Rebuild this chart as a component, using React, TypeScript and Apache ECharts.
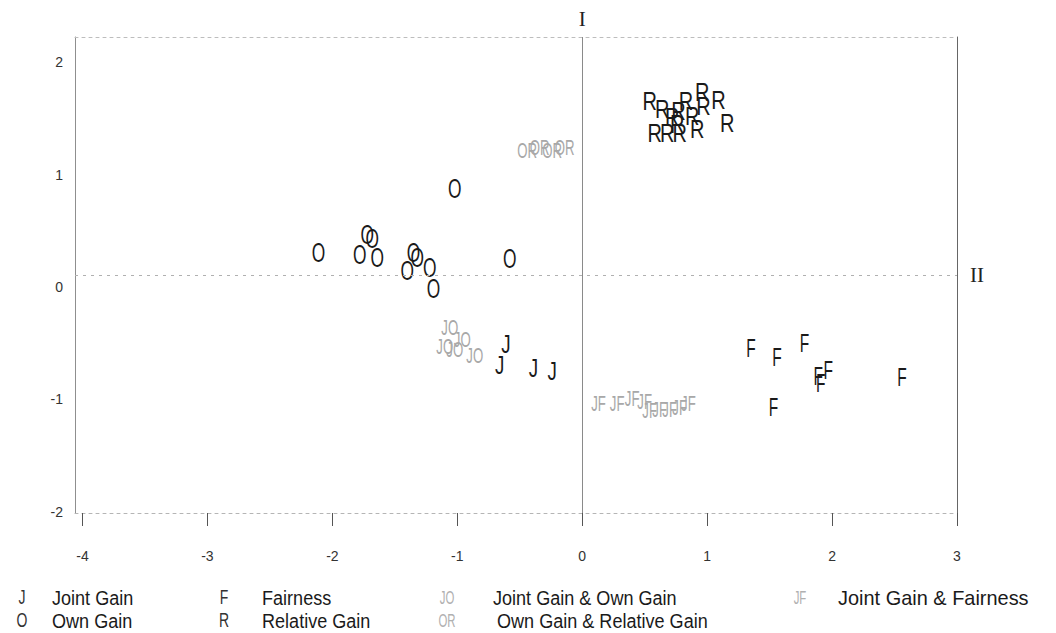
import React, { useEffect, useRef } from "react";
import * as echarts from "echarts";

// Tick values
const xTicks = [-4, -3, -2, -1, 0, 1, 2, 3];
const yTicks = [-2, -1, 0, 1, 2];

// Data points [x, y]
const jointGain: number[][] = [
  [-0.61, -0.62], [-0.66, -0.81], [-0.39, -0.83], [-0.24, -0.86],
];
const ownGain: number[][] = [
  [-1.02, 0.77], [-2.11, 0.2], [-1.72, 0.36], [-1.68, 0.33], [-1.78, 0.18],
  [-1.64, 0.16], [-1.35, 0.2], [-1.32, 0.16], [-1.4, 0.04], [-1.22, 0.07],
  [-1.19, -0.12], [-0.58, 0.15],
];
const fairness: number[][] = [
  [1.35, -0.65], [1.56, -0.73], [1.78, -0.61], [1.89, -0.9], [1.97, -0.85],
  [1.91, -0.96], [1.53, -1.18], [2.56, -0.91],
];
const relativeGain: number[][] = [
  [0.54, 1.54], [0.64, 1.47], [0.83, 1.54], [0.96, 1.62], [1.09, 1.55],
  [0.97, 1.5], [0.77, 1.45], [0.88, 1.41], [0.72, 1.4], [1.16, 1.35],
  [0.58, 1.26], [0.68, 1.26], [0.78, 1.26], [0.92, 1.29], [0.76, 1.34],
];
const jointOwn: number[][] = [
  [-1.06, -0.47], [-1.1, -0.64], [-0.96, -0.58], [-0.86, -0.72], [-1.02, -0.67],
];
const ownRelative: number[][] = [
  [-0.44, 1.11], [-0.34, 1.13], [-0.24, 1.11], [-0.14, 1.13],
];
const jointFairness: number[][] = [
  [0.13, -1.15], [0.28, -1.15], [0.4, -1.1], [0.5, -1.13], [0.54, -1.21],
  [0.62, -1.2], [0.7, -1.2], [0.78, -1.18], [0.85, -1.15],
];

const seriesNames = [
  "Joint Gain", "Own Gain", "Fairness", "Relative Gain",
  "Joint Gain & Own Gain", "Own Gain & Relative Gain", "Joint Gain & Fairness",
];
const seriesSymbols = ["J", "O", "F", "R", "JO", "OR", "JF"];

const SANS = "'Liberation Sans', Arial, sans-serif";
const SERIF = "'Liberation Serif', 'Times New Roman', serif";

function letterRender(symbol: string, fontSize: number, scaleX: number, color: string) {
  return (_params: any, api: any) => {
    const p = api.coord([api.value(0), api.value(1)]);
    return {
      type: "text",
      x: p[0],
      y: p[1],
      scaleX,
      style: {
        text: symbol,
        fontSize,
        fontFamily: SANS,
        fill: color,
        align: "center",
        verticalAlign: "middle",
      },
    };
  };
}

export default function App() {
  const ref = useRef<HTMLDivElement>(null);

  useEffect(() => {
    if (!ref.current) return;
    const chart = echarts.init(ref.current, undefined, { renderer: "svg" });

    const datasets = [jointGain, ownGain, fairness, relativeGain, jointOwn, ownRelative, jointFairness];
    const looks = [
      { size: 25, sx: 0.75, color: "#1a1a1a" },
      { size: 28, sx: 0.62, color: "#1a1a1a" },
      { size: 25, sx: 0.62, color: "#1a1a1a" },
      { size: 25, sx: 0.8, color: "#1a1a1a" },
      { size: 22, sx: 0.6, color: "#a8a8a8" },
      { size: 22, sx: 0.6, color: "#a8a8a8" },
      { size: 22, sx: 0.6, color: "#a8a8a8" },
    ];

    const customSeries = datasets.map((d, i) => ({
      name: seriesNames[i],
      type: "custom",
      coordinateSystem: "cartesian2d",
      xAxisIndex: 0,
      yAxisIndex: 0,
      encode: { x: 0, y: 1 },
      data: d,
      z: i >= 4 ? 2 : 3,
      renderItem: letterRender(seriesSymbols[i], looks[i].size, looks[i].sx, looks[i].color),
    }));

    const legendRows = [
      { sym: 0, sx: 22, tx: 52, y: 597 },
      { sym: 1, sx: 22, tx: 52, y: 620 },
      { sym: 2, sx: 224, tx: 262, y: 597 },
      { sym: 3, sx: 224, tx: 262, y: 620 },
      { sym: 4, sx: 447, tx: 493, y: 597 },
      { sym: 5, sx: 447, tx: 497, y: 620 },
      { sym: 6, sx: 800, tx: 838, y: 597 },
    ];
    const graphics: any[] = [];
    legendRows.forEach((r) => {
      const faint = r.sym >= 4;
      graphics.push({
        type: "text",
        x: r.sx,
        y: r.y,
        scaleX: faint ? 0.6 : 0.7,
        style: {
          text: seriesSymbols[r.sym],
          fontSize: faint ? 19 : 20,
          fontFamily: SANS,
          fill: faint ? "#b0b0b0" : "#333",
          align: "center",
          verticalAlign: "middle",
        },
      });
      graphics.push({
        type: "text",
        x: r.tx,
        y: r.y,
        scaleX: r.sym === 6 ? 0.95 : 0.86,
        style: {
          text: seriesNames[r.sym],
          fontSize: 21,
          fontFamily: SANS,
          fill: "#1a1a1a",
          align: "left",
          verticalAlign: "middle",
        },
      });
    });

    chart.setOption({
      animation: false,
      backgroundColor: "#ffffff",
      grid: { left: 75, right: 99, top: 37, bottom: 120 },
      xAxis: [
        {
          type: "value",
          position: "bottom",
          min: -4.06,
          max: 3,
          axisLine: { show: true, onZero: false, lineStyle: { color: "#b5b5b5", width: 1, type: [3, 4] } },
          axisTick: { show: true, customValues: xTicks, length: 13, lineStyle: { color: "#555", width: 1 } },
          axisLabel: {
            customValues: xTicks,
            margin: 36,
            fontSize: 14,
            color: "#333",
            fontFamily: SANS,
          },
          splitLine: { show: false },
        },
        {
          type: "value",
          position: "top",
          min: -4.06,
          max: 3,
          axisLine: { show: true, onZero: false, lineStyle: { color: "#bdbdbd", width: 1, type: [3, 4] } },
          axisTick: { show: false },
          axisLabel: { show: false },
          splitLine: { show: false },
        },
      ],
      yAxis: [
        {
          type: "value",
          position: "left",
          min: -2.12,
          max: 2.12,
          axisLine: { show: true, onZero: false, lineStyle: { color: "#8f8f8f", width: 1 } },
          axisTick: { show: false },
          axisLabel: {
            customValues: yTicks,
            margin: 12,
            fontSize: 14,
            color: "#333",
            fontFamily: SANS,
            verticalAlign: "top",
            lineHeight: 24,
          },
          splitLine: { show: false },
        },
        {
          type: "value",
          position: "right",
          min: -2.12,
          max: 2.12,
          axisLine: { show: true, onZero: false, lineStyle: { color: "#666", width: 1 } },
          axisTick: { show: false },
          axisLabel: { show: false },
          splitLine: { show: false },
        },
      ],
      series: [
        {
          type: "scatter",
          name: "axes",
          data: [],
          silent: true,
          markLine: {
            silent: true,
            symbol: "none",
            animation: false,
            data: [
              {
                xAxis: 0,
                lineStyle: { color: "#8a8a8a", width: 1, type: "solid" },
                label: {
                  show: true,
                  position: "end",
                  formatter: "I",
                  fontFamily: SERIF,
                  fontSize: 21,
                  color: "#222",
                  distance: 8,
                },
              },
              {
                yAxis: 0,
                lineStyle: { color: "#b0b0b0", width: 1, type: [3, 5] },
                label: {
                  show: true,
                  position: "end",
                  formatter: "II",
                  fontFamily: SERIF,
                  fontSize: 21,
                  color: "#222",
                  distance: 13,
                },
              },
            ],
          },
        },
        ...customSeries,
      ],
      graphic: graphics,
    });

    return () => chart.dispose();
  }, []);

  return (
    <div
      ref={ref}
      style={{ position: "fixed", left: 0, top: 0, width: 1056, height: 633, background: "#fff" }}
    />
  );
}
